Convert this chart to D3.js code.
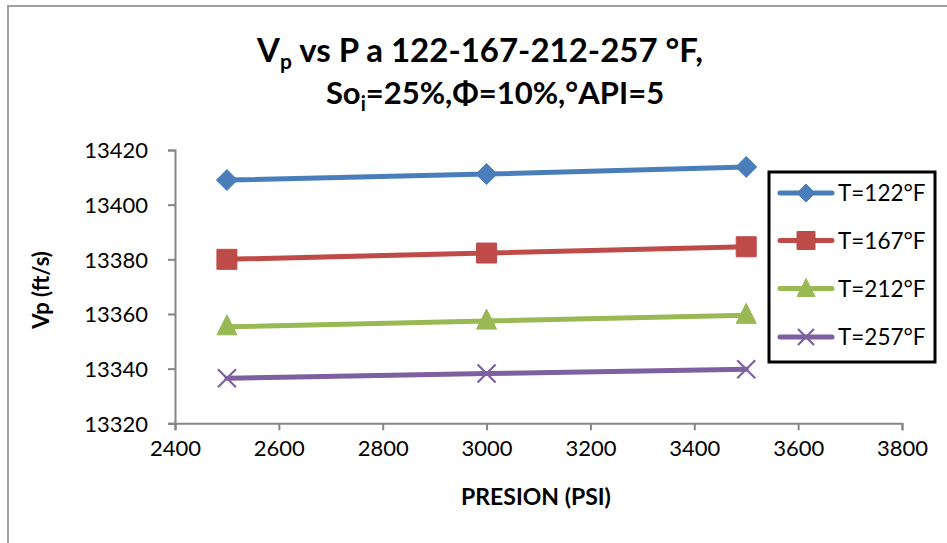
<!DOCTYPE html>
<html><head><meta charset="utf-8">
<script src="https://cdn.jsdelivr.net/npm/d3@7"></script>
<style>html,body{margin:0;padding:0;background:#fff;}svg{display:block;}</style>
</head><body>
<svg id="c" width="947" height="543"></svg>
<script>
const pressures = [2500, 3000, 3500];
const seriesNames = ["T=122°F", "T=167°F", "T=212°F", "T=257°F"];
const vp122 = [13409.0, 13411.2, 13413.8];
const vp167 = [13380.0, 13382.3, 13384.6];
const vp212 = [13355.3, 13357.4, 13359.5];
const vp257 = [13336.5, 13338.2, 13339.8];
const xTicks = [2400, 2600, 2800, 3000, 3200, 3400, 3600, 3800];
const yTicks = [13320, 13340, 13360, 13380, 13400, 13420];
const colors = ["#4a7ebb", "#be4b48", "#98b954", "#7d60a0"];
const shapes = ["diamond", "square", "triangle", "x"];

const series = [vp122, vp167, vp212, vp257].map((v, i) => ({name: seriesNames[i], values: v, color: colors[i], shape: shapes[i]}));

const svg = d3.select("#c");
const font = "Lato, 'Open Sans', sans-serif";

// outer border
svg.append("rect").attr("x", 8).attr("y", 6).attr("width", 960).attr("height", 560)
  .attr("fill", "none").attr("stroke", "#a0a0a0").attr("stroke-width", 2);

const L = 175, R = 902, T = 150, B = 423.3;
const x = d3.scaleLinear().domain([2400, 3800]).range([L, R]);
const y = d3.scaleLinear().domain([13320, 13420]).range([B, T]);

const axisColor = "#868686";
const gx = svg.append("g").attr("transform", `translate(0,${B})`)
  .call(d3.axisBottom(x).tickValues(xTicks).tickSize(7).tickPadding(10).tickFormat(d3.format("d")));
const gy = svg.append("g").attr("transform", `translate(${L},0)`)
  .call(d3.axisLeft(y).tickValues(yTicks).tickSize(7).tickPadding(20).tickFormat(d3.format("d")));
[gx, gy].forEach(g => {
  g.select(".domain").attr("stroke", axisColor).attr("stroke-width", 2);
  g.selectAll(".tick line").attr("stroke", axisColor).attr("stroke-width", 2);
  g.selectAll(".tick text").attr("font-family", font).attr("font-size", 22).attr("fill", "#000");
});
gy.selectAll(".tick text").attr("dy", "0.35em");

function markerPath(shape, s) {
  const h = s / 2;
  if (shape === "diamond") return `M0,${-h}L${h},0L0,${h}L${-h},0Z`;
  if (shape === "square") return `M${-h},${-h}H${h}V${h}H${-h}Z`;
  if (shape === "triangle") return `M0,${-h}L${h},${h}L${-h},${h}Z`;
  return `M${-h},${-h}L${h},${h}M${-h},${h}L${h},${-h}`;
}
function drawMarker(g, shape, color, cx, cy, s) {
  const p = g.append("path").attr("d", markerPath(shape, s)).attr("transform", `translate(${cx},${cy})`);
  if (shape === "x") p.attr("fill", "none").attr("stroke", color).attr("stroke-width", 2.2);
  else p.attr("fill", color).attr("stroke", color).attr("stroke-width", 1);
}

const line = d3.line().x((d, i) => x(pressures[i])).y(d => y(d));
series.forEach(s => {
  const g = svg.append("g");
  g.append("path").attr("d", line(s.values)).attr("fill", "none").attr("stroke", s.color)
    .attr("stroke-width", 5).attr("stroke-linecap", "round");
  s.values.forEach((v, i) => {
    const sz = s.shape === "diamond" ? 21 : s.shape === "square" ? 20 : s.shape === "triangle" ? 20 : 18;
    drawMarker(g, s.shape, s.color, x(pressures[i]), y(v) + (s.shape === "triangle" ? -2 : 0), sz);
  });
});

// legend
const lg = svg.append("g");
lg.append("rect").attr("x", 769).attr("y", 172).attr("width", 166).attr("height", 190)
  .attr("fill", "#fff").attr("stroke", "#000").attr("stroke-width", 3);
const legY = [193, 240.5, 288.5, 337];
series.forEach((s, i) => {
  lg.append("line").attr("x1", 780).attr("x2", 832).attr("y1", legY[i]).attr("y2", legY[i])
    .attr("stroke", s.color).attr("stroke-width", 5).attr("stroke-linecap", "round");
  const sz = s.shape === "x" ? 16 : 18;
  drawMarker(lg, s.shape, s.color, 806, legY[i] + (s.shape === "triangle" ? -1 : 0), sz);
  lg.append("text").attr("x", 838).attr("y", legY[i]).attr("dy", "0.36em")
    .attr("font-family", font).attr("font-size", 22.5).text(s.name);
});

// title
const title = svg.append("text").attr("text-anchor", "middle").attr("font-family", font)
  .attr("font-weight", "bold").attr("fill", "#000");
const t1 = title.append("tspan").attr("x", 480).attr("y", 62).attr("font-size", 33);
t1.append("tspan").text("V");
t1.append("tspan").attr("font-size", 21).attr("dy", 7).text("p");
t1.append("tspan").attr("dy", -7).text(" vs P a 122-167-212-257 °F,");
const t2 = title.append("tspan").attr("x", 495).attr("y", 104).attr("font-size", 31);
t2.append("tspan").text("So");
t2.append("tspan").attr("font-size", 20).attr("dy", 7).text("i");
t2.append("tspan").attr("dy", -7).text("=25%,Φ=10%,°API=5");

// axis titles
svg.append("text").attr("x", 536).attr("y", 505).attr("text-anchor", "middle")
  .attr("font-family", font).attr("font-weight", "bold").attr("font-size", 23).text("PRESION (PSI)");
svg.append("text").attr("transform", "translate(49,290) rotate(-90)").attr("text-anchor", "middle")
  .attr("font-family", font).attr("font-weight", "bold").attr("font-size", 22).text("Vp (ft/s)");
</script>
</body></html>
